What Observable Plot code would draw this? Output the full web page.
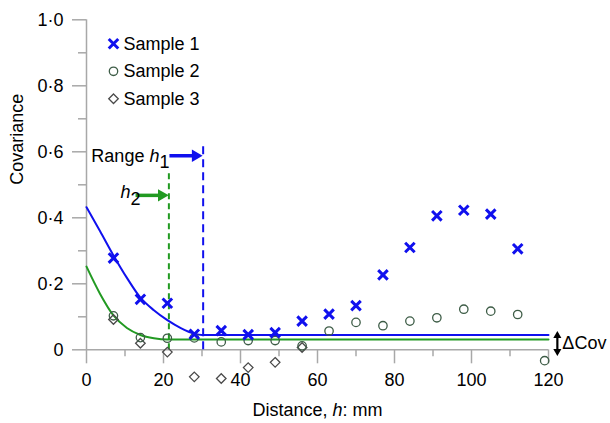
<!DOCTYPE html>
<html><head><meta charset="utf-8">
<script src="https://cdn.jsdelivr.net/npm/d3@7"></script>
<script src="https://cdn.jsdelivr.net/npm/@observablehq/plot@0.6"></script>
<style>body{margin:0;background:#fff;}</style>
</head><body><div id="chart"></div>
<script>
// ---- data ----
const distances1 = [7,14,21,28,35,42,49,56,63,70,77,84,91,98,105,112];
const sample1 = [0.278,0.153,0.141,0.047,0.058,0.046,0.052,0.087,0.108,0.134,0.227,0.31,0.406,0.423,0.411,0.306];
const distances2 = [7,14,21,28,35,42,49,56,63,70,77,84,91,98,105,112,119];
const sample2 = [0.103,0.037,0.035,0.036,0.024,0.028,0.028,0.012,0.057,0.083,0.073,0.087,0.097,0.123,0.117,0.107,-0.033];
const distances3 = [7,14,21,28,35,42,49,56];
const sample3 = [0.092,0.02,-0.007,-0.082,-0.087,-0.054,-0.038,0.007];

const fit1H = [0,3.5,7,10.5,14,17.5,21,24.5,28,30,120];
const fit1C = [0.432,0.36,0.286,0.218,0.158,0.12,0.09,0.066,0.049,0.045,0.045];
const fit2H = [0,3.5,7,10.5,14,17.5,21,120];
const fit2C = [0.252,0.17,0.104,0.066,0.045,0.035,0.031,0.031];

const range1 = 30.3, range1Top = 0.628;
const range2 = 21.4, range2Top = 0.534;
const arrow1 = {x1: 23.1, x2: 29.6, y: 0.588};
const arrow2 = {x1: 14.3, x2: 20.8, y: 0.468};
const deltaCov = {x: 122.3, y1: -0.011, y2: 0.049, labelY: 0.019};

const xMajor = [0,20,40,60,80,100,120];
const xMinor = [10,30,50,70,90,110];
const yMajor = [0,0.2,0.4,0.6,0.8,1.0];
const yMinor = [0.1,0.3,0.5,0.7,0.9];

const legendLabels = ["Sample 1","Sample 2","Sample 3"];

// ---- styles ----
const blue = "#1010ee", green = "#229a22", s2col = "#3d5c46", s3col = "#4a4a4a", gray = "#a8a8a8";
const toRows = (xs, ys) => xs.map((h, i) => ({h, c: ys[i]}));
const fmt = d => d === 0 ? "0" : d.toFixed(1).replace(".", "\u00B7");

const legendSym = [
  {symbol: "times", stroke: blue, strokeWidth: 3, r: 4.4},
  {symbol: "circle", stroke: s2col, strokeWidth: 1.3, r: 4.2},
  {symbol: "diamond2", stroke: s3col, strokeWidth: 1.3, r: 4.3}
];
const legendMarks = legendLabels.flatMap((lab, i) => [
  Plot.dot([lab], {frameAnchor: "top-left", dx: 27, dy: 24 + 27.5 * i, fill: "none", ...legendSym[i]}),
  Plot.text([lab], {frameAnchor: "top-left", dx: 37, dy: 24 + 27.5 * i, textAnchor: "start", lineAnchor: "middle"})
]);

const chart = Plot.plot({
  width: 610, height: 423,
  marginLeft: 86, marginRight: 62, marginTop: 19.3, marginBottom: 73.7,
  x: {domain: [0, 120]},
  y: {domain: [0, 1]},
  style: {fontFamily: "'Liberation Sans', Arial, sans-serif", fontSize: "18px", background: "white", color: "black", overflow: "visible"},
  marks: [
    Plot.ruleY([0], {stroke: gray, strokeWidth: 1.5}),
    Plot.ruleX([0], {stroke: gray, strokeWidth: 1.5}),
    Plot.axisY(yMajor, {anchor: "left", tickSize: 14, tickPadding: 9, stroke: gray, strokeWidth: 1.5, tickFormat: fmt, label: null}),
    Plot.axisY(yMinor, {anchor: "left", tickSize: 8, text: null, stroke: gray, strokeWidth: 1.5, label: null}),
    Plot.axisX(xMajor, {anchor: "bottom", tickSize: 14, tickPadding: 9, stroke: gray, strokeWidth: 1.5, tickFormat: d => String(d), label: null}),
    Plot.axisX(xMinor, {anchor: "bottom", tickSize: 7, text: null, stroke: gray, strokeWidth: 1.5, label: null}),
    Plot.text(["Covariance"], {frameAnchor: "left", rotate: -90, dx: -69, lineAnchor: "middle"}),
    Plot.text(["Distance, h: mm"], {frameAnchor: "bottom", dy: 60, lineAnchor: "middle"}),

    // range lines
    Plot.ruleX([range1], {y1: 0, y2: range1Top, stroke: blue, strokeWidth: 2, strokeDasharray: "8,5"}),
    Plot.ruleX([range2], {y1: 0, y2: range2Top, stroke: green, strokeWidth: 2, strokeDasharray: "6,4"}),

    // fitted curves
    Plot.line(toRows(fit1H, fit1C), {x: "h", y: "c", stroke: blue, strokeWidth: 2, curve: "monotone-x"}),
    Plot.line(toRows(fit2H, fit2C), {x: "h", y: "c", stroke: green, strokeWidth: 2, curve: "monotone-x"}),

    // samples
    Plot.dot(toRows(distances3, sample3), {x: "h", y: "c", symbol: "diamond2", stroke: s3col, fill: "none", strokeWidth: 1.3, r: 4.3}),
    Plot.dot(toRows(distances2, sample2), {x: "h", y: "c", symbol: "circle", stroke: s2col, fill: "none", strokeWidth: 1.3, r: 4.2}),
    Plot.dot(toRows(distances1, sample1), {x: "h", y: "c", symbol: "times", stroke: blue, strokeWidth: 3, r: 4.4}),

    // range arrows
    Plot.link([arrow1], {x1: "x1", x2: "x2", y1: "y", y2: "y", stroke: blue, strokeWidth: 3.5, dx: -6}),
    Plot.dot([arrow1], {x: "x2", y: "y", symbol: "triangle", fill: blue, r: 4.6, rotate: 90, dx: -5}),
    Plot.text(["Range h1"], {x: arrow1.x1, y: arrow1.y, textAnchor: "end", lineAnchor: "middle", dx: -6, dy: 0}),
    Plot.link([arrow2], {x1: "x1", x2: "x2", y1: "y", y2: "y", stroke: green, strokeWidth: 3.5, dx: -6}),
    Plot.dot([arrow2], {x: "x2", y: "y", symbol: "triangle", fill: green, r: 4.6, rotate: 90, dx: -5}),
    Plot.text(["h2"], {x: arrow2.x1, y: arrow2.y, textAnchor: "end", lineAnchor: "middle", dx: -1, dy: -3}),

    // delta cov
    Plot.link([deltaCov], {x1: "x", x2: "x", y1: "y1", y2: "y2", stroke: "black", strokeWidth: 2.2}),
    Plot.dot([deltaCov], {x: "x", y: "y2", symbol: "triangle", fill: "black", r: 3, dy: 2}),
    Plot.dot([deltaCov], {x: "x", y: "y1", symbol: "triangle", fill: "black", r: 3, rotate: 180, dy: -2}),
    Plot.text(["\u0394Cov"], {x: deltaCov.x, y: deltaCov.labelY, textAnchor: "start", lineAnchor: "middle", dx: 5}),

    ...legendMarks
  ]
});

d3.select(chart).selectAll("text").each(function () {
  const t = this.textContent;
  if (t === "Distance, h: mm") this.innerHTML = 'Distance, <tspan font-style="italic">h</tspan>: mm';
  else if (t === "Range h1") this.innerHTML = 'Range <tspan font-style="italic">h</tspan><tspan dy="6">1</tspan>';
  else if (t === "h2") this.innerHTML = '<tspan font-style="italic">h</tspan><tspan dy="7">2</tspan>';
});

document.getElementById("chart").appendChild(chart);
</script>
</body></html>
